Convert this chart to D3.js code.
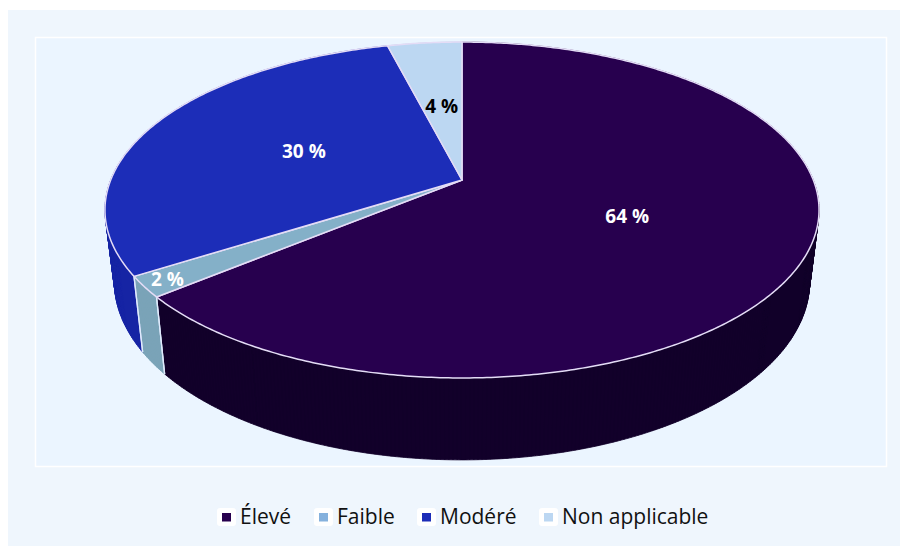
<!DOCTYPE html>
<html><head><meta charset="utf-8">
<script src="https://cdn.jsdelivr.net/npm/d3@7/dist/d3.min.js"></script>
<style>html,body{margin:0;padding:0;background:#fff}svg{display:block}</style>
</head><body><svg id="c" width="900" height="546"></svg>
<script>
const categories = ["Élevé","Faible","Modéré","Non applicable"];
const values = [64,2,30,4];
const topColors = ["#27004e","#84b0c8","#1c2db8","#bcd7f2"];
const sideColors = ["#12002a","#7aa3b8","#1624a4","#a9c6e0"];
const legendColors = ["#27004e","#85b1dd","#1c2db8","#bcd7f2"];
const labelColors = ["#fff","#fff","#fff","#000"];
const labels = ["64 %","2 %","30 %","4 %"];

const svg = d3.select("#c");
const font = "'Open Sans','Noto Sans',sans-serif";
svg.append("rect").attr("x",8).attr("y",10).attr("width",892).attr("height",536).attr("fill","#eff6fd");
svg.append("rect").attr("x",35.5).attr("y",37.5).attr("width",851).attr("height",429).attr("fill","#ebf5ff").attr("stroke","#fff").attr("stroke-width",1.5);

const k = -0.1786;
const proj = (cx,cy,a,b) => (t,r=1) => {
  const u = Math.sin(t)*r, v = -Math.cos(t)*r, w = 1 + k*v;
  return [cx + b*u/w, cy + a*v/w];
};
const topP = proj(462,180,162.6,351.3);
const botP = proj(462,250,172.4,342);

const arcs = d3.pie().sort(null).value(d=>d)(values);
const line = d3.line();
const samples = (a0,a1) => {
  const n = Math.max(2,Math.ceil((a1-a0)/0.01));
  return d3.range(n+1).map(i=>a0+(a1-a0)*i/n);
};
const g = svg.append("g");
// outer walls: one path of small quads, so the silhouette is tangent to both rims without seams
arcs.forEach((d,i)=>{
  const ts = samples(d.startAngle,d.endAngle);
  const dStr = d3.pairs(ts).map(([a,b])=>line([topP(a),topP(b),botP(b),botP(a)])+"Z").join("");
  g.append("path").attr("d",dStr).attr("fill",sideColors[i])
   .attr("stroke",sideColors[i]).attr("stroke-width",0.8);
});
// wall seams at slice boundaries
arcs.forEach(d=>{
  [d.startAngle,d.endAngle].forEach(t=>{
    g.append("path").attr("d",line([topP(t),botP(t)])).attr("fill","none")
     .attr("stroke","#dfeafc").attr("stroke-width",1.3);
  });
});
// top faces
arcs.forEach((d,i)=>{
  const ts = samples(d.startAngle,d.endAngle);
  const pts = [topP(0,0)].concat(ts.map(t=>topP(t)));
  g.append("path").attr("d",line(pts)+"Z").attr("fill",topColors[i])
   .attr("stroke","#e4dcf6").attr("stroke-width",1.5).attr("stroke-linejoin","round");
});
// labels
arcs.forEach((d,i)=>{
  const mid=(d.startAngle+d.endAngle)/2;
  const p=topP(mid,values[i]<3?0.935:0.5);
  svg.append("text").attr("x",p[0]).attr("y",p[1]+7).attr("text-anchor","middle")
    .attr("font-family",font).attr("font-weight",700).attr("font-size",19)
    .attr("fill",labelColors[i]).text(labels[i]);
});
// legend
const legX = d3.scaleOrdinal().domain(categories).range([217,314,417,539]);
categories.forEach((c,i)=>{
  const x=legX(c);
  svg.append("rect").attr("x",x).attr("y",508).attr("width",19).attr("height",18).attr("rx",3).attr("fill","#fff");
  svg.append("rect").attr("x",x+5).attr("y",513).attr("width",9).attr("height",8.5).attr("fill",legendColors[i]);
  svg.append("text").attr("x",x+23).attr("y",524).attr("font-family",font).attr("font-size",21).attr("fill","#111").text(c);
});
</script></body></html>
